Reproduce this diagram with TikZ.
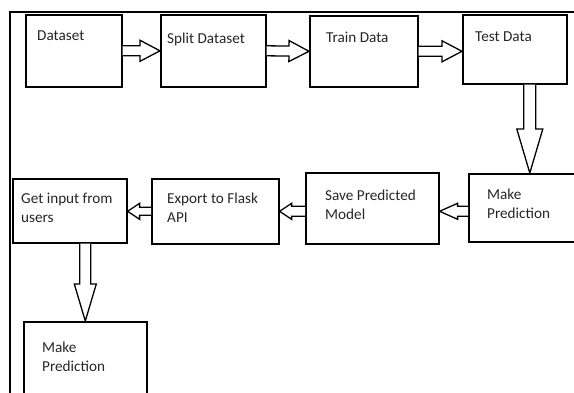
\documentclass[tikz,border=0pt]{standalone}
\usepackage{fontspec}
\setmainfont{Carlito}
\usetikzlibrary{calc}

% hollow block arrow: shaft half width, head length, head half width, from, to
\newcommand{\blockarrow}[5]{%
  \coordinate (hb) at ($(#5)!#2pt!(#4)$);
  \draw[blk] ($(#4)!#1pt!90:(#5)$) -- ($(hb)!#1pt!-90:(#4)$) -- ($(hb)!#3pt!-90:(#4)$)
    -- (#5) -- ($(hb)!#3pt!90:(#4)$) -- ($(hb)!#1pt!90:(#4)$) -- ($(#4)!#1pt!-90:(#5)$);}

\begin{document}
\begin{tikzpicture}[
            x = 1pt, y = -1pt, % pixel grid
            box/.style = {draw, line width=1.6pt, anchor=north west, inner sep=0pt},
            txt/.style = {anchor=base west, align=left, inner sep=0pt,
                          font=\fontsize{15.2}{19}\selectfont, text=black!85},
            blk/.style = {line width=1.3pt, line join=miter, fill=white}
        ]
\clip (0,0) rectangle (574,393);
\draw[line width=1.3pt] (10,393) -- (10,12) -- (574,12);

% top row
\node[box, minimum width=96, minimum height=72, label={[txt, xshift=12, yshift=-27]north west:Dataset}] (ds) at (25,14) {};
\node[box, minimum width=105, minimum height=72, label={[txt, xshift=7, yshift=-30]north west:Split Dataset}] (sd) at (160,14) {};
\node[box, minimum width=108, minimum height=71, label={[txt, xshift=17, yshift=-28]north west:Train Data}] (tr) at (309,15) {};
\node[box, minimum width=104, minimum height=69, label={[txt, xshift=13, yshift=-28]north west:Test Data}] (te) at (462,14) {};

% bottom row (base of a two line label is its last line)
\node[box, minimum width=122, minimum height=68, label={[txt, xshift=19, yshift=-46]north west:Make\\Prediction}] (mp) at (468,173) {};
\node[box, minimum width=133, minimum height=71, label={[txt, xshift=20, yshift=-48]north west:Save Predicted\\Model}] (sp) at (305,172) {};
\node[box, minimum width=127, minimum height=65, label={[txt, xshift=16, yshift=-45]north west:Export to Flask\\API}] (ex) at (151,178) {};
\node[box, minimum width=114, minimum height=64, label={[txt, xshift=9, yshift=-45]north west:Get input from\\users}] (gi) at (12,178) {};
\node[box, minimum width=123, minimum height=85, label={[txt, xshift=19, yshift=-50]north west:Make\\Prediction}] (mq) at (23,321) {};

\blockarrow{5}{20}{10.5}{ds.east}{sd.west}
\blockarrow{5}{20}{10.5}{sd.east}{tr.west}
\blockarrow{5}{20}{10.5}{tr.east}{te.west |- tr.east}
\blockarrow{6}{44}{13}{te.south -| mp.north}{mp.north}
\blockarrow{5}{18}{8}{mp.west |- ex.east}{sp.east |- ex.east}
\blockarrow{5}{12}{8}{sp.west |- ex.east}{ex.east}
\blockarrow{4}{12}{8}{ex.west}{gi.east |- ex.west}
\blockarrow{5.5}{37}{11}{gi.south -| mq.north}{mq.north}
\end{tikzpicture}
\end{document}
